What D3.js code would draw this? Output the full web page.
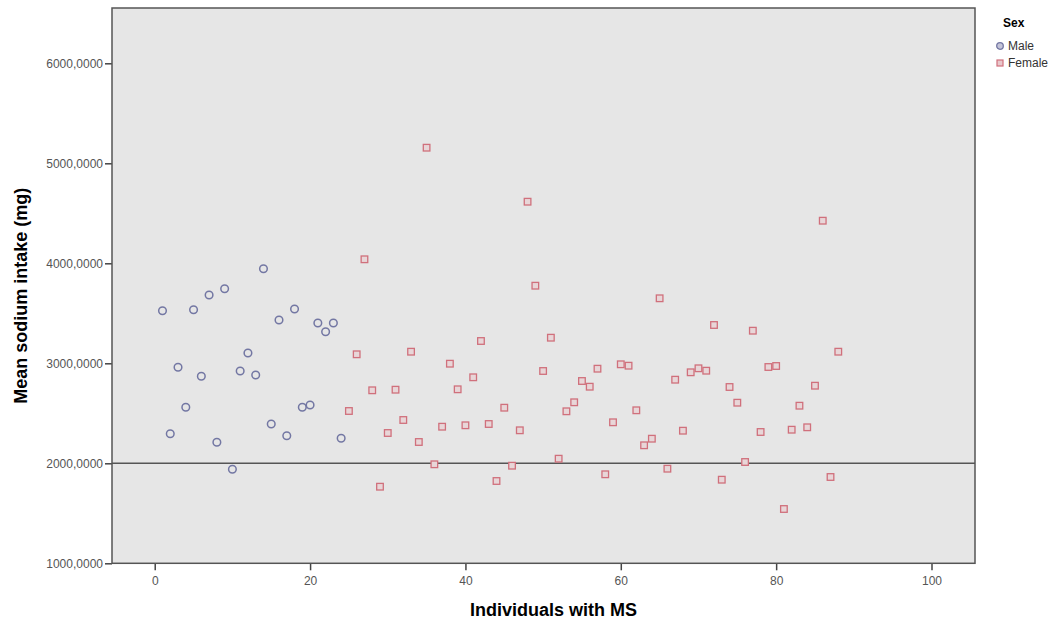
<!DOCTYPE html>
<html>
<head>
<meta charset="utf-8">
<script src="https://cdn.jsdelivr.net/npm/d3@7"></script>
<style>
  body { margin: 0; background: #fff; }
  text { font-family: "Liberation Sans", Arial, sans-serif; }
</style>
</head>
<body>
<div id="chart"></div>
<script>
// mean sodium intake (mg), individuals 1-24 male, 25-88 female
var maleValues = [3526, 2296, 2960, 2560, 3536, 2870, 3683, 2210, 3746, 1940,
                  2923, 3103, 2883, 3946, 2393, 3433, 2276, 3543, 2560, 2583,
                  3403, 3316, 3403, 2250]
var femaleValues = [2523, 3090, 4040, 2730, 1766, 2303, 2736, 2433, 3116, 2213,
                    5156, 1990, 2366, 2996, 2740, 2380, 2860, 3223, 2393, 1823,
                    2556, 1976, 2330, 4616, 3776, 2923, 3256, 2046, 2520, 2610,
                    2823, 2766, 2946, 1890, 2410, 2990, 2976, 2530, 2180, 2246,
                    3650, 1946, 2836, 2326, 2910, 2950, 2926, 3383, 1836, 2763,
                    2606, 2013, 3326, 2313, 2963, 2973, 1543, 2336, 2576, 2360,
                    2776, 4426, 1863, 3116]
var maleIds = d3.range(1, maleValues.length + 1)
var femaleIds = d3.range(maleValues.length + 1, maleValues.length + femaleValues.length + 1)
var xTicks = [0, 20, 40, 60, 80, 100]
var yTicks = [1000, 2000, 3000, 4000, 5000, 6000]
var refLine = 2000
var legendLabels = ["Male", "Female"]

var width = 1061, height = 619
var plotL = 112, plotR = 975, plotT = 8, plotB = 563.3

var xscale = d3.scaleLinear().domain([-5.5, 105.6]).range([plotL, plotR])
var yscale = d3.scaleLinear().domain([1000, 6553]).range([plotB, plotT])

var fmt = d3.formatLocale({decimal: ",", thousands: ".", grouping: [3], currency: ["", ""]}).format(".4f")

var svg = d3.select("#chart").append("svg")
  .attr("width", width)
  .attr("height", height)

svg.append("rect")
  .attr("x", plotL).attr("y", plotT)
  .attr("width", plotR - plotL).attr("height", plotB - plotT)
  .attr("fill", "#e6e6e6")

// axes
svg.append("g")
  .attr("transform", "translate(" + plotL + ",0)")
  .call(d3.axisLeft(yscale).tickValues(yTicks).tickFormat(fmt).tickSize(7).tickPadding(2).tickSizeOuter(0))
svg.append("g")
  .attr("transform", "translate(0," + plotB + ")")
  .call(d3.axisBottom(xscale).tickValues(xTicks).tickSize(7).tickPadding(6).tickSizeOuter(0))

svg.selectAll(".domain").remove()
svg.selectAll(".tick line").attr("stroke", "#444").attr("stroke-width", 1.5)
svg.selectAll(".tick text").attr("fill", "#555").style("font-size", "12px")

// reference line
svg.append("line")
  .attr("x1", plotL).attr("x2", plotR)
  .attr("y1", yscale(refLine)).attr("y2", yscale(refLine))
  .attr("stroke", "#555").attr("stroke-width", 1.5)

svg.append("rect")
  .attr("x", plotL).attr("y", plotT)
  .attr("width", plotR - plotL).attr("height", plotB - plotT)
  .attr("fill", "none").attr("stroke", "#555").attr("stroke-width", 1.5)

// points
var maleData = maleIds.map(function(id, i) { return {x: id, y: maleValues[i]} })
var femaleData = femaleIds.map(function(id, i) { return {x: id, y: femaleValues[i]} })

svg.selectAll(".male")
  .data(maleData)
  .enter().append("circle")
  .attr("class", "male")
  .attr("cx", function(d) { return xscale(d.x) })
  .attr("cy", function(d) { return yscale(d.y) })
  .attr("r", 3.8)
  .attr("fill", "none")
  .attr("stroke", "#7377a3")
  .attr("stroke-width", 1.5)

svg.selectAll(".female")
  .data(femaleData)
  .enter().append("rect")
  .attr("class", "female")
  .attr("x", function(d) { return xscale(d.x) - 3.3 })
  .attr("y", function(d) { return yscale(d.y) - 3.3 })
  .attr("width", 6.6).attr("height", 6.6)
  .attr("fill", "#e8d6d8")
  .attr("stroke", "#d0707c")
  .attr("stroke-width", 1.3)

// axis titles
svg.append("text")
  .attr("transform", "translate(27," + ((plotT + plotB) / 2 + 10) + ") rotate(-90)")
  .attr("text-anchor", "middle")
  .style("font-size", "18px").style("font-weight", "bold")
  .text("Mean sodium intake (mg)")

svg.append("text")
  .attr("x", (plotL + plotR) / 2 + 10)
  .attr("y", 616)
  .attr("text-anchor", "middle")
  .style("font-size", "18px").style("font-weight", "bold")
  .text("Individuals with MS")

// legend
var legend = svg.append("g").attr("transform", "translate(996,0)")
legend.append("text")
  .attr("x", 7).attr("y", 27)
  .style("font-size", "12px").style("font-weight", "bold")
  .text("Sex")
legend.append("circle")
  .attr("cx", 4).attr("cy", 46).attr("r", 3.3)
  .attr("fill", "#c4c4d8").attr("stroke", "#7377a3").attr("stroke-width", 1.3)
legend.append("rect")
  .attr("x", 1).attr("y", 60).attr("width", 6).attr("height", 6)
  .attr("fill", "#e8c8cc").attr("stroke", "#d0707c").attr("stroke-width", 1.2)
legend.selectAll(".lab")
  .data(legendLabels)
  .enter().append("text")
  .attr("class", "lab")
  .attr("x", 12)
  .attr("y", function(d, i) { return 50 + i * 17 })
  .attr("fill", "#333")
  .style("font-size", "12px")
  .text(function(d) { return d })
</script>
</body>
</html>
